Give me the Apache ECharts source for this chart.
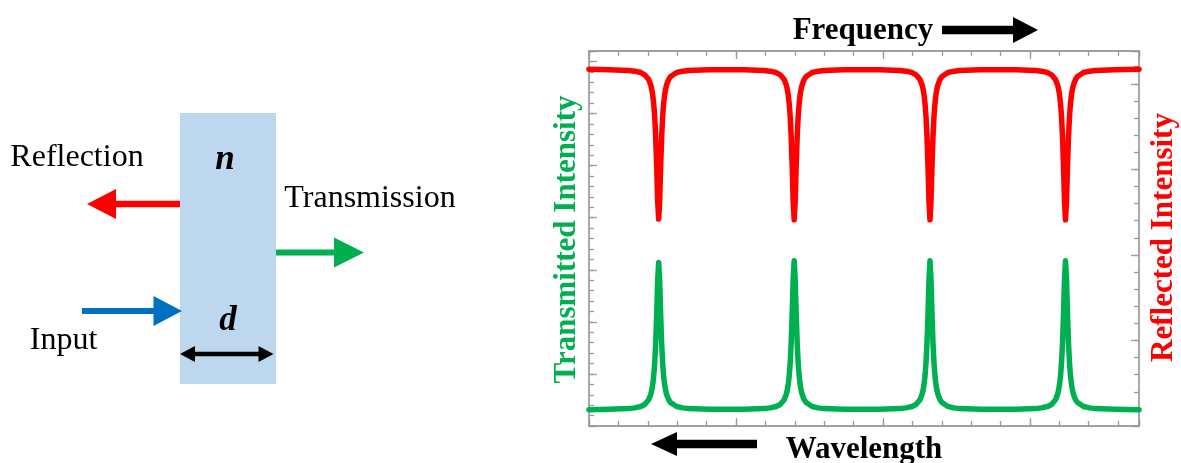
<!DOCTYPE html>
<html><head><meta charset="utf-8">
<script src="https://cdn.jsdelivr.net/npm/echarts@6/dist/echarts.min.js"></script>
<style>html,body{margin:0;padding:0;background:#fff}#c{width:1181px;height:463px}</style>
</head><body><div id="c"></div>
<script>
// Frequency axis positions (tick units) of the sampled curve points
const freqX = [0,
 0.670, 1.350, 1.550, 1.758, 1.894, 1.962, 2.030, 2.098, 2.132, 2.166, 2.200, 2.234, 2.268, 2.302, 2.336, 2.370, 2.404, 2.438, 2.472, 2.506, 2.540, 2.574, 2.608, 2.642, 2.710, 2.778, 2.846, 2.982, 3.190, 3.390, 4.070,
 5.280, 5.960, 6.160, 6.368, 6.504, 6.572, 6.640, 6.708, 6.742, 6.776, 6.810, 6.844, 6.878, 6.912, 6.946, 6.980, 7.014, 7.048, 7.082, 7.116, 7.150, 7.184, 7.218, 7.252, 7.320, 7.388, 7.456, 7.592, 7.800, 8.000, 8.680,
 9.900, 10.580, 10.780, 10.988, 11.124, 11.192, 11.260, 11.328, 11.362, 11.396, 11.430, 11.464, 11.498, 11.532, 11.566, 11.600, 11.634, 11.668, 11.702, 11.736, 11.770, 11.804, 11.838, 11.872, 11.940, 12.008, 12.076, 12.212, 12.420, 12.620, 13.300,
 14.510, 15.190, 15.390, 15.598, 15.734, 15.802, 15.870, 15.938, 15.972, 16.006, 16.040, 16.074, 16.108, 16.142, 16.176, 16.210, 16.244, 16.278, 16.312, 16.346, 16.380, 16.414, 16.448, 16.482, 16.550, 16.618, 16.686, 16.822, 17.030, 17.230, 17.910,
 18.71];
// Reflected intensity (right axis units)
const reflected = [20.85,
 20.82, 20.78, 20.74, 20.66, 20.53, 20.43, 20.25, 19.95, 19.71, 19.37, 18.86, 18.10, 16.93, 15.19, 13.15, 12.10, 13.15, 15.19, 16.93, 18.10, 18.86, 19.37, 19.71, 19.95, 20.25, 20.43, 20.53, 20.66, 20.74, 20.78, 20.82,
 20.82, 20.78, 20.74, 20.66, 20.53, 20.43, 20.25, 19.95, 19.71, 19.37, 18.86, 18.10, 16.92, 15.17, 13.11, 12.05, 13.11, 15.17, 16.92, 18.10, 18.86, 19.37, 19.71, 19.95, 20.25, 20.43, 20.53, 20.66, 20.74, 20.78, 20.82,
 20.82, 20.78, 20.74, 20.66, 20.53, 20.43, 20.25, 19.95, 19.71, 19.37, 18.86, 18.10, 16.92, 15.17, 13.11, 12.05, 13.11, 15.17, 16.92, 18.10, 18.86, 19.37, 19.71, 19.95, 20.25, 20.43, 20.53, 20.66, 20.74, 20.78, 20.82,
 20.82, 20.78, 20.74, 20.66, 20.53, 20.43, 20.25, 19.95, 19.71, 19.37, 18.86, 18.10, 16.92, 15.17, 13.11, 12.05, 13.11, 15.17, 16.92, 18.10, 18.86, 19.37, 19.71, 19.95, 20.25, 20.43, 20.53, 20.66, 20.74, 20.78, 20.82,
 20.85];
// Transmitted intensity (left axis units)
const transmitted = [1.56,
 1.60, 1.67, 1.74, 1.87, 2.07, 2.24, 2.53, 3.00, 3.39, 3.94, 4.76, 5.99, 7.88, 10.69, 13.99, 15.70, 13.99, 10.69, 7.88, 5.99, 4.76, 3.94, 3.39, 3.00, 2.53, 2.24, 2.07, 1.87, 1.74, 1.67, 1.60,
 1.60, 1.67, 1.74, 1.87, 2.07, 2.25, 2.53, 3.02, 3.41, 3.96, 4.79, 6.04, 7.95, 10.80, 14.13, 15.86, 14.13, 10.80, 7.95, 6.04, 4.79, 3.96, 3.41, 3.02, 2.53, 2.25, 2.07, 1.87, 1.74, 1.67, 1.60,
 1.60, 1.67, 1.74, 1.87, 2.07, 2.25, 2.53, 3.02, 3.41, 3.96, 4.79, 6.04, 7.95, 10.80, 14.13, 15.86, 14.13, 10.80, 7.95, 6.04, 4.79, 3.96, 3.41, 3.02, 2.53, 2.25, 2.07, 1.87, 1.74, 1.67, 1.60,
 1.60, 1.67, 1.74, 1.87, 2.07, 2.25, 2.53, 3.02, 3.41, 3.96, 4.79, 6.04, 7.95, 10.80, 14.13, 15.86, 14.13, 10.80, 7.95, 6.04, 4.79, 3.96, 3.41, 3.02, 2.53, 2.25, 2.07, 1.87, 1.74, 1.67, 1.60,
 1.56];
const xRange = [0, 18.71];
const leftRange = [0, 36];
const rightRange = [0, 21.92];
const titleTop = 'Frequency';
const titleBottom = 'Wavelength';
const titleLeft = 'Transmitted Intensity';
const titleRight = 'Reflected Intensity';
const diagramLabels = ['Reflection', 'Transmission', 'Input'];
const symN = 'n', symD = 'd';

const FRAME = '#a0a0a0';
const TICK = '#9a9a9a';
const RED = '#ff0000', GREEN = '#00b050', BLUE = '#0070c0';
const SERIF = '"Times New Roman","Liberation Serif",serif';

function xAx(grid, pos, interval, len, line) {
  return {type:'value', gridIndex:grid, position:pos, min:xRange[0], max:xRange[1], interval,
    axisLine:{show:line, onZero:false, lineStyle:{color:FRAME, width:1.8}},
    axisTick:{show:true, inside:true, length:len, lineStyle:{color:TICK, width:1.3}},
    axisLabel:{show:false}, splitLine:{show:false}};
}
function yAx(grid, pos, range, interval, len, line) {
  return {type:'value', gridIndex:grid, position:pos, min:range[0], max:range[1], interval,
    axisLine:{show:line, onZero:false, lineStyle:{color:FRAME, width:1.8}},
    axisTick:{show:true, inside:true, length:len, lineStyle:{color:TICK, width:1.3}},
    axisLabel:{show:false}, splitLine:{show:false}};
}
function arrowR(x0, x1, yc, s, hl, hh) {
  return [[x0,yc-s/2],[x1-hl,yc-s/2],[x1-hl,yc-hh/2],[x1,yc],[x1-hl,yc+hh/2],[x1-hl,yc+s/2],[x0,yc+s/2]];
}
function arrowL(x0, x1, yc, s, hl, hh) { // x0 tip (left), x1 tail
  return [[x1,yc-s/2],[x0+hl,yc-s/2],[x0+hl,yc-hh/2],[x0,yc],[x0+hl,yc+hh/2],[x0+hl,yc+s/2],[x1,yc+s/2]];
}
function arrowLR(x0, x1, yc, s, hl, hh) {
  return [[x0,yc],[x0+hl,yc-hh/2],[x0+hl,yc-s/2],[x1-hl,yc-s/2],[x1-hl,yc-hh/2],[x1,yc],[x1-hl,yc+hh/2],[x1-hl,yc+s/2],[x0+hl,yc+s/2],[x0+hl,yc+hh/2]];
}
function txt(x, y, text, font, fill, rot) {
  return {type:'text', x, y, rotation:rot||0, z:10,
    style:{text, font, fill, align:'center', verticalAlign:'middle', textAlign:'center', textVerticalAlign:'middle'}};
}

const gridRect = {left:589, top:51, width:550, height:375};
const chart = echarts.init(document.getElementById('c'), null, {renderer:'canvas'});
chart.setOption({
  animation:false,
  backgroundColor:'#ffffff',
  grid:[Object.assign({}, gridRect), Object.assign({}, gridRect)],
  xAxis:[xAx(0,'bottom',1,5,true), xAx(0,'top',1,5,true), xAx(1,'bottom',5,8,false), xAx(1,'top',5,8,false)],
  yAxis:[yAx(0,'left',leftRange,1,5,true), yAx(0,'right',rightRange,1,5,true), yAx(1,'left',leftRange,5,8,false), yAx(1,'right',rightRange,5,8,false)],
  series:[
    {type:'line', xAxisIndex:0, yAxisIndex:1, showSymbol:false, symbol:'none', z:5,
     data:freqX.map((x,i)=>[x, reflected[i]]),
     lineStyle:{color:RED, width:5.5, cap:'round', join:'round'}},
    {type:'line', xAxisIndex:0, yAxisIndex:0, showSymbol:false, symbol:'none', z:5,
     data:freqX.map((x,i)=>[x, transmitted[i]]),
     lineStyle:{color:GREEN, width:5.5, cap:'round', join:'round'}}
  ],
  graphic:[
    {type:'rect', shape:{x:180, y:113, width:96, height:271}, style:{fill:'#bdd7ee'}, z:1},
    {type:'polygon', shape:{points:arrowL(87,180,204,6.6,29,30)}, style:{fill:RED}, z:2},
    {type:'polygon', shape:{points:arrowR(276,364,252.5,6,30,30)}, style:{fill:GREEN}, z:2},
    {type:'polygon', shape:{points:arrowR(82,182,311,6,28.5,30)}, style:{fill:BLUE}, z:2},
    {type:'polygon', shape:{points:arrowLR(180,273.5,354,4.5,15,16)}, style:{fill:'#000'}, z:2},
    {type:'polygon', shape:{points:arrowR(942,1038,30,8.5,25,26)}, style:{fill:'#000'}, z:2},
    {type:'polygon', shape:{points:arrowL(651,757,444,8.5,26,24)}, style:{fill:'#000'}, z:2},
    txt(77, 157.5, diagramLabels[0], '32px '+SERIF, '#000'),
    txt(370, 199, diagramLabels[1], '32px '+SERIF, '#000'),
    txt(63.5, 341, diagramLabels[2], '32px '+SERIF, '#000'),
    txt(225, 160, symN, 'italic bold 35px '+SERIF, '#000'),
    txt(228, 321, symD, 'italic bold 35px '+SERIF, '#000'),
    txt(863, 31, titleTop, 'bold 31px '+SERIF, '#000'),
    txt(864, 450, titleBottom, 'bold 31px '+SERIF, '#000'),
    txt(567, 239.5, titleLeft, 'bold 31px '+SERIF, GREEN, Math.PI/2),
    txt(1164, 237.5, titleRight, 'bold 31px '+SERIF, RED, Math.PI/2)
  ]
});
</script></body></html>
